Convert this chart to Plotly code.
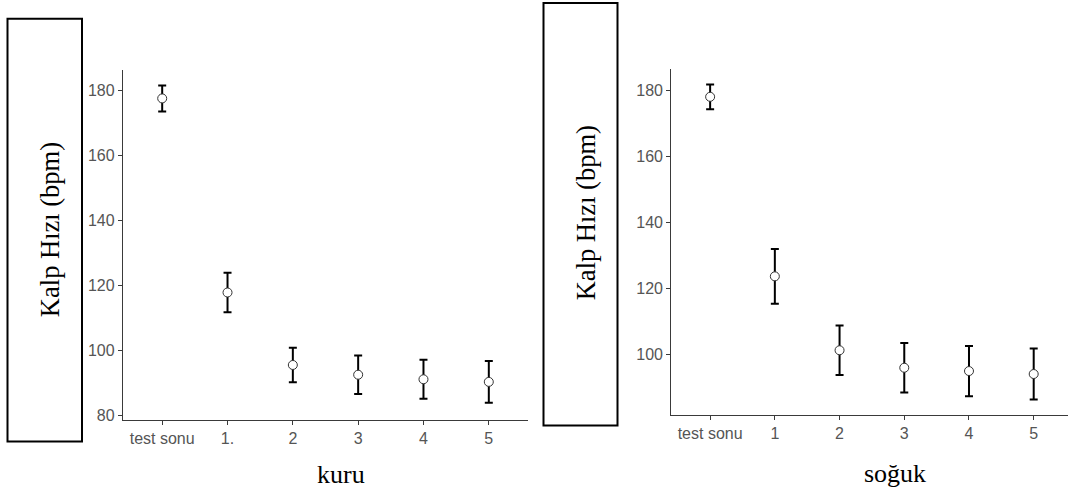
import plotly.graph_objects as go

# Data
kuru_categories = ["test sonu", "1.", "2", "3", "4", "5"]
kuru_means = [177.5, 117.8, 95.5, 92.5, 91.1, 90.3]
kuru_errors = [4.0, 6.1, 5.3, 5.9, 6.0, 6.4]

soguk_categories = ["test sonu", "1", "2", "3", "4", "5"]
soguk_means = [178.2, 123.8, 101.4, 96.1, 95.1, 94.2]
soguk_errors = [3.75, 8.3, 7.5, 7.5, 7.6, 7.7]

y_ticks = [80, 100, 120, 140, 160, 180]
y_title = "Kalp Hızı (bpm)"
panel_titles = ["kuru", "soğuk"]

W, H = 1068, 497
AXIS_COLOR = "#3a3a3a"
TICK_FONT = dict(family="Liberation Sans, Arial", size=16, color="#555555")
SERIF = "Liberation Serif, Times New Roman"


def px_x(v):
    return v / W


def px_y(v):
    return 1 - v / H


fig = go.Figure()

marker = dict(symbol="circle", size=9, color="white",
              line=dict(color="#333333", width=1))
err_style = dict(type="data", visible=True, color="black", thickness=2, width=4)

fig.add_trace(go.Scatter(
    x=kuru_categories, y=kuru_means, mode="markers",
    error_y=dict(array=kuru_errors, **err_style),
    marker=marker, xaxis="x", yaxis="y", showlegend=False))

fig.add_trace(go.Scatter(
    x=soguk_categories, y=soguk_means, mode="markers",
    error_y=dict(array=soguk_errors, **err_style),
    marker=marker, xaxis="x2", yaxis="y2", showlegend=False))

axis_common = dict(showline=True, linecolor=AXIS_COLOR, linewidth=1.3,
                   ticks="outside", ticklen=4, tickwidth=1.3, tickcolor=AXIS_COLOR,
                   showgrid=False, zeroline=False, tickfont=TICK_FONT)

fig.update_layout(
    width=W, height=H,
    margin=dict(l=0, r=0, t=0, b=0),
    paper_bgcolor="white", plot_bgcolor="white",
    xaxis=dict(type="category", domain=[px_x(123), px_x(528)],
               range=[-0.6, 5.6], anchor="y", **axis_common),
    yaxis=dict(domain=[px_y(423), px_y(70.7)], range=[78.7, 186.2],
               tickvals=y_ticks, anchor="x", **axis_common),
    xaxis2=dict(type="category", domain=[px_x(671.3), 1.0],
                range=[-0.6, 5.53], anchor="y2", **axis_common),
    yaxis2=dict(domain=[px_y(418.3), px_y(70)], range=[81.8, 186.5],
                tickvals=y_ticks[1:], anchor="x2", **axis_common),
)

# Boxes around the y titles
fig.add_shape(type="rect", xref="paper", yref="paper",
              x0=px_x(7.5), x1=px_x(82), y0=px_y(445), y1=px_y(19),
              line=dict(color="black", width=2), fillcolor="rgba(0,0,0,0)")
fig.add_shape(type="rect", xref="paper", yref="paper",
              x0=px_x(543.5), x1=px_x(617.5), y0=px_y(429), y1=px_y(3),
              line=dict(color="black", width=2), fillcolor="rgba(0,0,0,0)")

# Y titles
for cx, cy in [(50, 232), (586, 215)]:
    fig.add_annotation(x=px_x(cx), y=px_y(cy), xref="paper", yref="paper",
                       xanchor="center", yanchor="middle",
                       text=y_title, textangle=-90, showarrow=False,
                       font=dict(family=SERIF, size=26.5, color="black"))

# Panel x titles
for (cx, cy), t in zip([(341, 478), (895, 477)], panel_titles):
    fig.add_annotation(x=px_x(cx), y=px_y(cy), xref="paper", yref="paper",
                       xanchor="center", yanchor="middle",
                       text=t, showarrow=False,
                       font=dict(family=SERIF, size=26, color="black"))

fig.write_html(
    "out.html",
    config={"displayModeBar": False},
    post_script="document.body.style.margin='0';document.body.style.overflow='hidden';",
)
